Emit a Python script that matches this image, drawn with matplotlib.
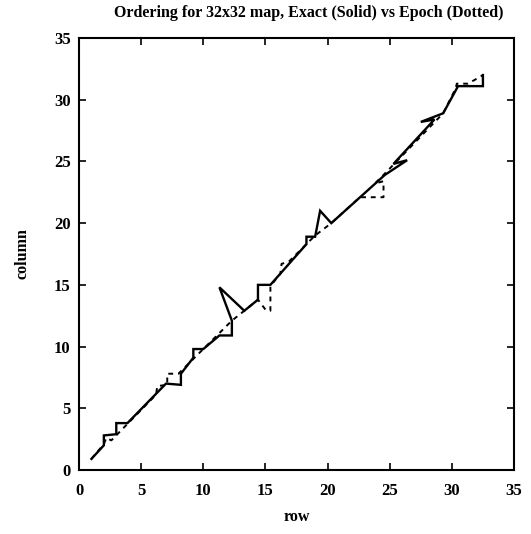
import matplotlib
matplotlib.use("Agg")
import matplotlib.pyplot as plt

# Exact ordering (solid) as a path through (row, column)
row_exact = [1.0, 2.0, 2.0, 3.0, 3.0, 3.9, 7.0, 8.2, 8.2, 9.2, 9.2, 10.0,
             11.3, 12.3, 12.3, 11.3, 13.3, 14.4, 14.4, 15.4, 18.3, 18.3,
             19.0, 19.4, 20.3, 24.6, 26.4, 25.3, 28.6, 27.5, 29.3, 30.5,
             32.5, 32.5]
col_exact = [0.9, 2.0, 2.8, 2.9, 3.8, 3.8, 7.0, 6.9, 7.8, 9.1, 9.8, 9.8,
             10.9, 10.9, 12.1, 14.8, 12.9, 13.8, 15.0, 15.0, 18.3, 18.9,
             18.9, 21.0, 20.0, 23.9, 25.1, 24.8, 28.4, 28.2, 28.9, 31.1,
             31.1, 32.0]

# Epoch ordering (dotted)
row_epoch = [1.0, 2.0, 2.2, 2.6, 6.2, 6.3, 7.1, 7.1, 8.0, 12.3, 13.3, 14.4,
             15.0, 15.4, 15.4, 16.2, 16.3, 16.9, 18.3, 19.0, 20.3, 22.6,
             24.5, 24.5, 23.8, 24.4, 29.3, 30.3, 30.4, 31.3, 32.0, 32.5]
col_epoch = [0.9, 2.1, 2.6, 2.4, 6.1, 6.8, 6.9, 7.8, 7.8, 12.1, 12.9, 13.8,
             13.0, 12.9, 14.9, 15.9, 16.7, 16.9, 18.3, 19.0, 20.0, 22.1,
             22.1, 23.4, 23.2, 23.8, 28.9, 30.9, 31.3, 31.3, 31.7, 32.0]

ticks = [0, 5, 10, 15, 20, 25, 30, 35]

plt.rcParams['font.family'] = ['Liberation Serif', 'DejaVu Serif']

fig = plt.figure(figsize=(5.31, 5.34), dpi=100)
ax = fig.add_axes([79 / 531, 1 - 470 / 534, (514 - 79) / 531, (470 - 38) / 534])

ax.plot(row_exact, col_exact, color='black', linewidth=1.7, solid_joinstyle='miter')
ax.plot(row_epoch, col_epoch, color='black', linewidth=1.4, linestyle=(0, (2.5, 2.5)))

ax.set_xlim(0, 35)
ax.set_ylim(0, 35)
ax.set_xticks(ticks)
ax.set_yticks(ticks)
ax.tick_params(direction='in', length=5, width=1.2, top=True, right=True,
               labelsize=12)
ax.tick_params(axis='x', pad=9.5)
ax.tick_params(axis='y', pad=6)
for lab in ax.get_xticklabels() + ax.get_yticklabels():
    lab.set_fontweight('bold')
for s in ax.spines.values():
    s.set_linewidth(1.5)

ax.set_title('Ordering for 32x32 map, Exact (Solid) vs Epoch (Dotted)',
             fontsize=11.5, fontweight='bold', pad=15, x=0.529)
ax.set_xlabel('row', fontsize=11.5, fontweight='bold', labelpad=7)
ax.set_ylabel('column', fontsize=11.5, fontweight='bold', labelpad=17)

fig.savefig('out.png', dpi=100)
